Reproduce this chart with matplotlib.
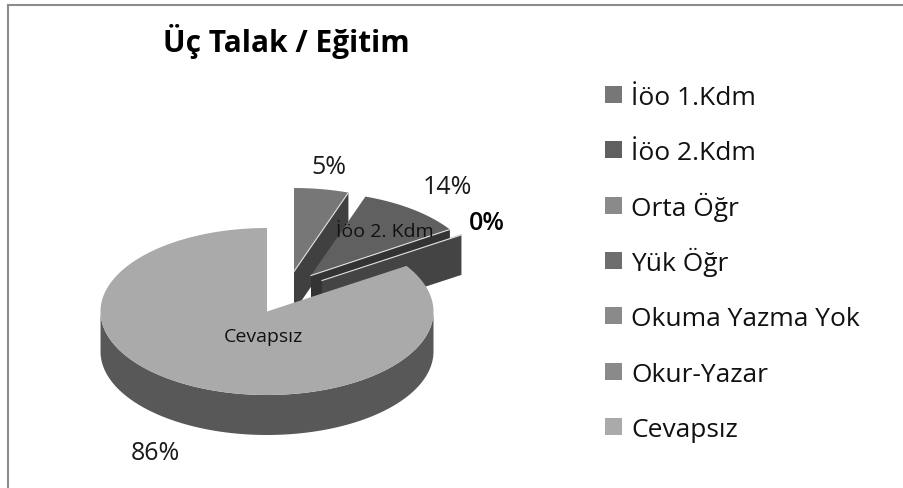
import numpy as np
import matplotlib
matplotlib.use('Agg')
import matplotlib.pyplot as plt
from matplotlib.patches import Polygon, Rectangle

plt.rcParams['font.family'] = ['Open Sans', 'DejaVu Sans']

# data
categories = ['İöo 1.Kdm', 'İöo 2.Kdm', 'Orta Öğr', 'Yük Öğr', 'Okuma Yazma Yok', 'Okur-Yazar', 'Cevapsız']
# the printed percentages do not add up to the drawn slices, so both are kept
drawn_shares = [5.3, 10.4, 0.1, 0, 0, 0, 84.2]
pct_labels = ['5%', '14%', '0%', '', '', '', '86%']
slice_names = ['', 'İöo 2. Kdm', '', '', '', '', 'Cevapsız']
colors = ['#777777', '#606060', '#8a8a8a', '#6e6e6e', '#8a8a8a', '#8a8a8a', '#aaaaaa']
cut_colors = ['#404040', '#333333', '#444444', '#444444', '#444444', '#444444', '#444444']
wall_color = '#585858'

# pie geometry in pixels
cx, cy = 267, 311.5
rx, ry = 166.5, 83.5
depth = 40
offsets = [(27, -40), (44, -36), (55, -31), (0, 0), (0, 0), (0, 0), (0, 0)]
pct_pos = [(329, 167), (447, 188), (487, 224), None, None, None, (155, 453)]
name_pos = [None, (385, 232), None, None, None, None, (263, 337)]

fig = plt.figure(figsize=(9.04, 4.88), dpi=100)
ax = fig.add_axes([0, 0, 1, 1])
ax.set_xlim(0, 904)
ax.set_ylim(488, 0)
ax.axis('off')

# frame: only the top and left lines are in the picture
ax.plot([8, 904], [4.5, 4.5], color='#8c8c8c', lw=1.5)
ax.plot([8, 8], [4.5, 488], color='#8c8c8c', lw=1.5)


def rim(angles, dx, dy):
    rad = np.radians(angles)
    return cx + dx + rx * np.cos(rad), cy + dy - ry * np.sin(rad)


start = 90.0
for share, col, cut, (dx, dy) in zip(drawn_shares, colors, cut_colors, offsets):
    if share == 0:
        continue
    end = start - share * 3.6
    ang = np.linspace(start, end, 200)
    x, y = rim(ang, dx, dy)
    ax0, ay0 = cx + dx, cy + dy

    # cut face on the clockwise end of the slice
    if share < 50:
        ax.add_patch(Polygon([(ax0, ay0), (x[-1], y[-1]), (x[-1], y[-1] + depth), (ax0, ay0 + depth)],
                             facecolor=cut, edgecolor='none'))

    # outer wall, only the part that faces the viewer
    front = np.sin(np.radians(ang)) <= 0
    if front.any():
        fx, fy = x[front], y[front]
        wall = np.column_stack([np.r_[fx, fx[::-1]], np.r_[fy, fy[::-1] + depth]])
        ax.add_patch(Polygon(wall, facecolor=wall_color, edgecolor='none'))

    ax.add_patch(Polygon(np.column_stack([np.r_[ax0, x], np.r_[ay0, y]]), facecolor=col, edgecolor='none'))
    if share < 50:
        ax.plot([ax0, x[-1]], [ay0, y[-1]], color='#e0e0e0', lw=0.8)
    start = end

for lab, pos in zip(pct_labels, pct_pos):
    if pos is None:
        continue
    bold = lab == '0%'
    ax.text(pos[0], pos[1], lab, fontsize=18 if bold else 18, ha='center', va='center',
            color='black' if bold else '#1a1a1a', fontweight='semibold' if bold else 'normal')

for lab, pos in zip(slice_names, name_pos):
    if pos is None:
        continue
    ax.text(pos[0], pos[1], lab, fontsize=14, ha='center', va='center', color='#111111')

ax.text(286, 52, 'Üç Talak / Eğitim', fontsize=21.5, fontweight='bold', ha='center', va='baseline', color='black')

# legend rows are evenly spaced in the picture, so they are laid out by hand
for i, (name, c) in enumerate(zip(categories, colors)):
    row = 94.5 + i * 55.3
    ax.add_patch(Rectangle((605, row - 8.5), 17, 17, facecolor=c, edgecolor='none'))
    ax.text(631, row + 10.5, name, fontsize=19, ha='left', va='baseline', color='#111111')

fig.savefig('out.png', dpi=100)
